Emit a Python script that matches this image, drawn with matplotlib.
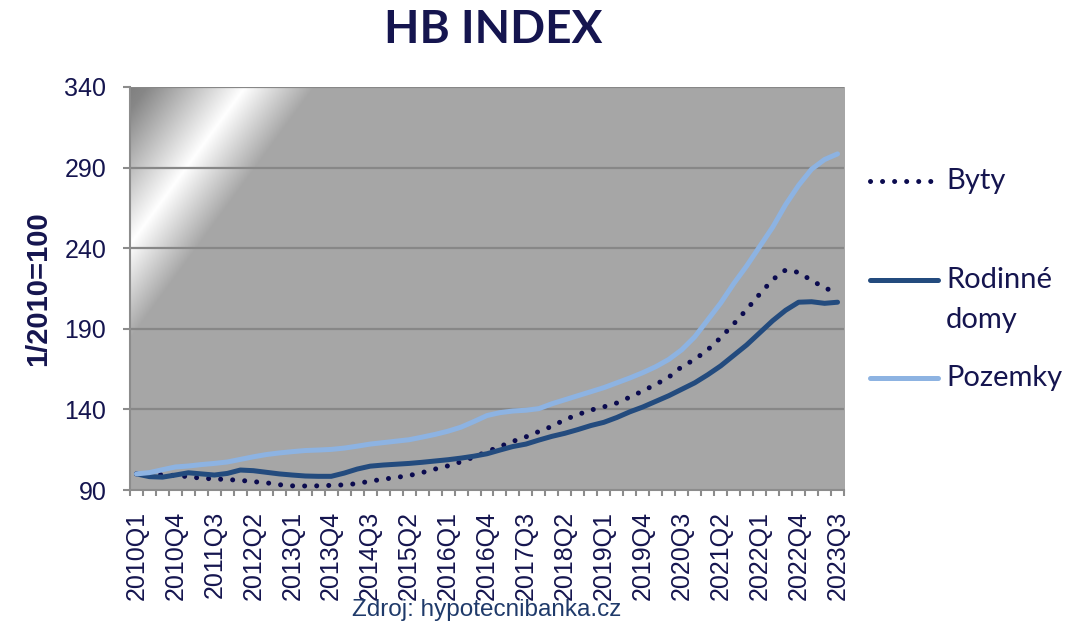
import numpy as np
import matplotlib
matplotlib.use("Agg")
import matplotlib.pyplot as plt
from matplotlib.lines import Line2D

# quarterly index, 1/2010 = 100
years = range(2010, 2024)
quarters = [f"{y}Q{q}" for y in years for q in range(1, 5)][:55]  # 2010Q1 .. 2023Q3

byty = [100, 99.8, 99.5, 99.0, 98.3, 97.3, 96.9, 96.5, 96.0, 95.2,
        94.5, 93.3, 92.6, 92.5, 92.6, 92.9, 93.2, 94.0, 95.5, 96.7,
        97.8, 99.0, 100.8, 103.0, 105.0, 107.5, 110.5, 113.8, 117.0, 120.2,
        123.0, 126.3, 129.5, 133.7, 136.8, 139.6, 141.6, 144.0, 147.6, 151.5,
        155.5, 160.0, 166.5, 171.0, 177.0, 184.5, 193.0, 202.0, 211.5, 220.5,
        226.5, 225.0, 220.0, 215.5, 212.0]

rodinne_domy = [100, 98.3, 98.0, 99.3, 100.7, 100.0, 99.3, 100.3, 102.4, 102.0,
                101.0, 100.0, 99.3, 98.7, 98.5, 98.5, 100.5, 103.0, 104.8, 105.5,
                106.0, 106.5, 107.2, 108.0, 108.8, 109.8, 111.0, 112.5, 114.8, 117.0,
                118.5, 121.0, 123.3, 125.2, 127.5, 130.0, 132.0, 135.0, 138.5, 141.5,
                145.0, 148.5, 152.5, 156.5, 161.5, 167.0, 173.5, 180.0, 187.5, 195.0,
                201.5, 206.5, 206.8, 205.8, 206.5]

pozemky = [100, 100.8, 102.6, 104.3, 104.9, 105.8, 106.5, 107.4, 109.0, 110.6,
           112.0, 113.0, 113.8, 114.5, 114.8, 115.2, 116.0, 117.2, 118.5, 119.4,
           120.3, 121.2, 122.8, 124.5, 126.5, 129.0, 132.5, 136.2, 138.0, 139.0,
           139.5, 140.5, 143.5, 146.0, 148.5, 151.0, 153.5, 156.5, 159.5, 162.8,
           166.5, 171.0, 177.0, 185.0, 195.5, 206.0, 218.0, 229.0, 241.0, 253.0,
           267.0, 279.0, 289.0, 295.0, 298.5]

y_ticks = [90, 140, 190, 240, 290, 340]

TEXT = '#15154f'
C_BYTY = '#0b0b4f'
C_RD = '#234b7e'
C_POZ = '#8db3e2'

fig = plt.figure(figsize=(10.68, 6.24), dpi=100)
ax = fig.add_axes([0.1217, 0.2147, 0.6686, 0.6459])

x = np.arange(len(quarters))

# glossy gray background of the plot area
nx, ny = 714, 403
px, py = np.meshgrid(np.arange(nx), np.arange(ny))
d = (153 * px + 112 * py) / 17595.0
g = np.interp(d, [0, 0.15, 1.0, 1.6], [0.5, 0.53, 1.0, 0.651])
img = np.dstack([g, g, g])
ax.imshow(img, extent=(-0.5, len(quarters) - 0.5, 90, 340), aspect='auto',
          zorder=0, interpolation='bilinear')

ax.set_xlim(-0.5, len(quarters) - 0.5)
ax.set_ylim(90, 340)

for yv in y_ticks[1:]:
    ax.axhline(yv, color='#878787', lw=1.6, zorder=1)

ax.plot(x, byty, color=C_BYTY, lw=3.6, linestyle=(0, (0.01, 2.4)),
        dash_capstyle='round', zorder=3)
ax.plot(x, rodinne_domy, color=C_RD, lw=3.6, solid_capstyle='round', zorder=4)
ax.plot(x, pozemky, color=C_POZ, lw=3.6, solid_capstyle='round', zorder=5)

# axes styling
for s in ['top', 'right']:
    ax.spines[s].set_visible(False)
ax.spines['left'].set_color('#8c8c8c')
ax.spines['bottom'].set_color('#8c8c8c')
ax.spines['left'].set_linewidth(1.5)
ax.spines['bottom'].set_linewidth(1.5)

ax.set_yticks(y_ticks)
ax.set_yticklabels([str(v) for v in y_ticks], fontsize=18, color=TEXT,
                   fontfamily='Liberation Sans')
ax.tick_params(axis='y', length=5, width=1.5, color='#8c8c8c', pad=12)

ax.set_xticks(x[::3])
ax.set_xticklabels(quarters[::3], rotation=90, fontsize=18, color=TEXT,
                   fontfamily='Liberation Sans')
ax.set_xticks(np.arange(len(quarters) + 1) - 0.5, minor=True)
ax.tick_params(axis='x', which='major', length=0, pad=15)
ax.tick_params(axis='x', which='minor', length=4.5, width=1.5, color='#8c8c8c')

ax.set_ylabel('1/2010=100', fontsize=21, fontweight='bold', color=TEXT,
              fontfamily='Liberation Sans', labelpad=9)

fig.text(0.462, 0.952, 'HB INDEX', ha='center', va='center', fontsize=33,
         fontweight='bold', color=TEXT, fontfamily='Lato')

# legend drawn at the right side
legend_items = [(['Byty'], C_BYTY, (0, (0.01, 2.4)), 181),
                (['Rodinné', 'domy'], C_RD, '-', 280),
                (['Pozemky'], C_POZ, '-', 378)]
for lines, col, ls, ypix in legend_items:
    yf = 1 - ypix / 624
    fig.add_artist(Line2D([870 / 1068, 938 / 1068], [yf, yf], color=col, lw=3.6,
                          linestyle=ls, dash_capstyle='round',
                          solid_capstyle='round', transform=fig.transFigure))
    for k, txt in enumerate(lines):
        fig.text(946 / 1068, 1 - (ypix + 40 * k) / 624, txt, ha='left', va='center',
                 fontsize=21, color=TEXT, fontfamily='Lato')

fig.text(0.456, 0.022, 'Zdroj: hypotecnibanka.cz', ha='center', va='center',
         fontsize=17.5, color='#1f3a6a', fontfamily='Liberation Sans')

fig.savefig('out.png', dpi=100)
